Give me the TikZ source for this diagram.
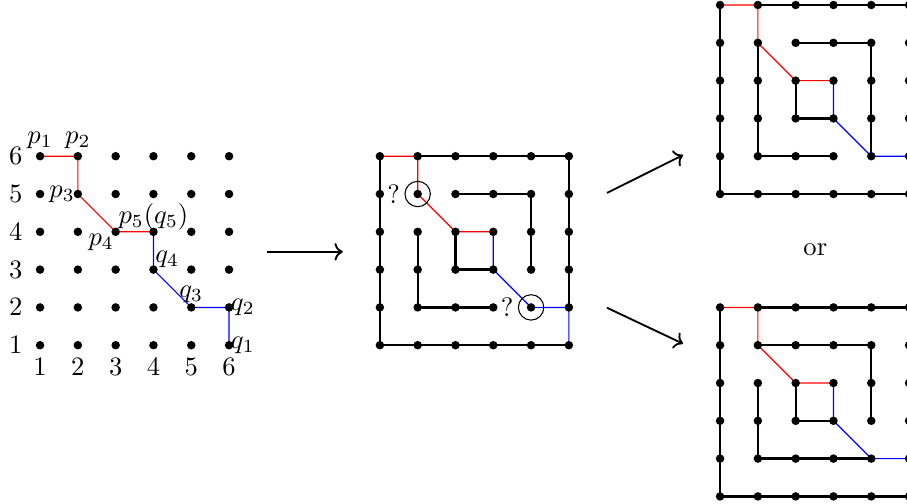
\documentclass[tikz,border=0pt]{standalone}
\usetikzlibrary{arrows.meta}
\begin{document}
\begin{tikzpicture}[x=0.5cm,y=0.5cm,
  blk/.style={line width=0.85pt},
  redp/.style={red, line width=0.45pt},
  bluep/.style={blue, line width=0.45pt},
  arr/.style={->, line width=0.7pt},
  ring/.style={draw, circle, minimum size=0.336cm, inner sep=0pt, line width=0.4pt}]
\useasboundingbox (0,0) rectangle (23.995,13.333);
\clip (0,0) rectangle (23.995,13.333);
\foreach \p/\dx/\dy in {L/0.06/3.2, M/9.05/3.2, T/18.05/7.2, B/18.05/-0.8}
  \foreach \i in {1,...,6}
    \foreach \j in {1,...,6}
      \coordinate (\p-\i-\j) at (\i+\dx,\j+\dy);
% ---- left grid
\draw[redp] (L-1-6) -- (L-2-6) -- (L-2-5) -- (L-3-4) -- (L-4-4);
\draw[bluep] (L-4-4) -- (L-4-3) -- (L-5-2) -- (L-6-2) -- (L-6-1);
% ---- middle
\draw[blk] (M-2-6) -- (M-6-6) -- (M-6-2);
\draw[blk] (M-1-6) -- (M-1-1) -- (M-6-1);
\draw[blk] (M-3-5) -- (M-5-5) -- (M-5-3);
\draw[blk] (M-2-4) -- (M-2-2) -- (M-4-2);
\draw[blk] (M-3-4) -- (M-3-3) -- (M-4-3);
\draw[redp] (M-1-6) -- (M-2-6) -- (M-2-5) -- (M-3-4) -- (M-4-4);
\draw[bluep] (M-4-4) -- (M-4-3) -- (M-5-2) -- (M-6-2) -- (M-6-1);
% ---- top right
\draw[blk] (T-2-6) -- (T-6-6) -- (T-6-2);
\draw[blk] (T-1-6) -- (T-1-1) -- (T-6-1);
\draw[blk] (T-3-5) -- (T-5-5) -- (T-5-2);
\draw[blk] (T-2-5) -- (T-2-2) -- (T-4-2);
\draw[blk] (T-3-4) -- (T-3-3) -- (T-4-3);
\draw[redp] (T-1-6) -- (T-2-6) -- (T-2-5) -- (T-3-4) -- (T-4-4);
\draw[bluep] (T-4-4) -- (T-4-3) -- (T-5-2) -- (T-6-2) -- (T-6-1);
% ---- bottom right
\draw[blk] (B-2-6) -- (B-6-6) -- (B-6-2);
\draw[blk] (B-1-6) -- (B-1-1) -- (B-6-1);
\draw[blk] (B-2-5) -- (B-5-5) -- (B-5-3);
\draw[blk] (B-2-4) -- (B-2-2) -- (B-5-2);
\draw[blk] (B-3-4) -- (B-3-3) -- (B-4-3);
\draw[redp] (B-1-6) -- (B-2-6) -- (B-2-5) -- (B-3-4) -- (B-4-4);
\draw[bluep] (B-4-4) -- (B-4-3) -- (B-5-2) -- (B-6-2) -- (B-6-1);
% ---- dots
\foreach \p in {L,M,T,B}
  \foreach \i in {1,...,6}
    \foreach \j in {1,...,6}
      \fill (\p-\i-\j) circle (1.6pt);
% ---- left labels
\foreach \k in {1,...,6} {
  \node[left=6.4pt, inner sep=0pt] (row\k) at (L-1-\k) {$\k$};
  \node[below=4.9pt, inner sep=0pt] (col\k) at (L-\k-1) {$\k$};
}
\node[above, inner sep=2.5pt] (lp1) at (L-1-6) {$p_1$};
\node[above, inner sep=2.5pt] (lp2) at (L-2-6) {$p_2$};
\node[left, inner sep=1pt] (lp3) at (L-2-5) {$p_3$};
\node[below left, inner sep=0.5pt] (lp4) at (L-3-4) {$p_4$};
\node[above, inner sep=0.5pt] (lp5) at (L-4-4) {$p_5(q_5)$};
\node[above right, inner sep=0.5pt] (lq4) at (L-4-3) {$q_4$};
\node[above, inner sep=1.5pt] (lq3) at (L-5-2) {$q_3$};
\node[right, inner sep=0.5pt] (lq2) at (L-6-2) {$q_2$};
\node[right, inner sep=0.5pt] (lq1) at (L-6-1) {$q_1$};
% ---- circles and question marks
\node[ring] (c1) at (M-2-5) {};
\node[ring] (c2) at (M-5-2) {};
\node[left, inner sep=1.5pt] (qm1) at (c1.west) {?};
\node[left, inner sep=1.5pt] (qm2) at (c2.west) {?};
% ---- arrows and or
\coordinate (a1s) at (7.06,6.67);
\coordinate (a1e) at (9.07,6.67);
\coordinate (a2s) at (16.06,8.23);
\coordinate (a2e) at (18.07,9.23);
\coordinate (a3s) at (16.06,5.19);
\coordinate (a3e) at (18.07,4.24);
\draw[arr] (a1s) -- (a1e);
\draw[arr] (a2s) -- (a2e);
\draw[arr] (a3s) -- (a3e);
\node (or) at (21.57,6.72) {or};
\end{tikzpicture}
\end{document}
